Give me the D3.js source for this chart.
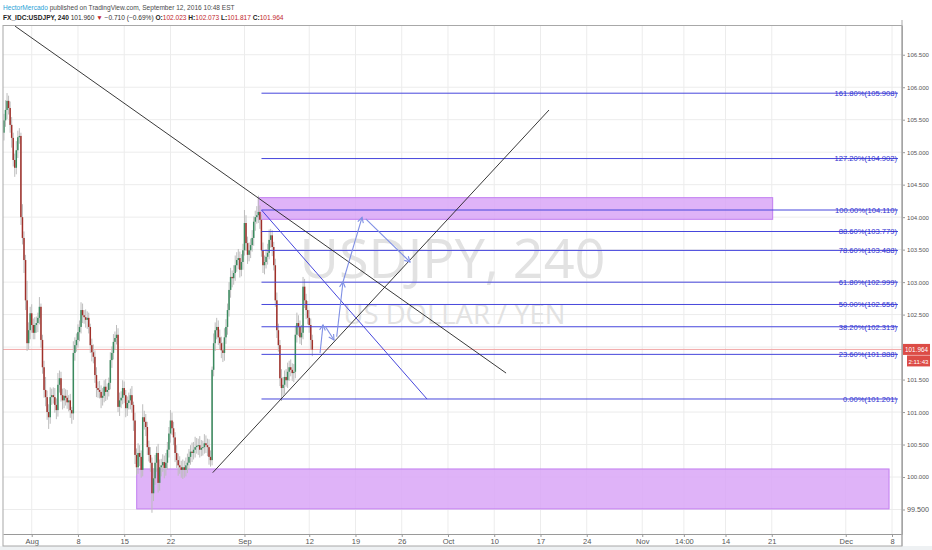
<!DOCTYPE html>
<html>
<head>
<meta charset="utf-8">
<script src="https://cdn.jsdelivr.net/npm/d3@7/dist/d3.min.js"></script>
<style>
  html, body { margin: 0; padding: 0; background: #ffffff; }
  svg { display: block; font-family: "Liberation Sans", Arial, sans-serif; }
</style>
</head>
<body>
<svg id="chart" width="932" height="550"></svg>
<script>
// ---------------- DATA ----------------
// 4h candles, bar i sits at trading day -3 + i/6 (trading day 0 = Aug 1, weekends skipped)
const firstOpen = 105.30;
const closes = [
  105.49,105.65,105.79,105.68,105.42,105.22,104.88,104.76,105.03,105.23,
  105.25,104.00,103.68,103.34,102.72,102.06,102.26,102.52,102.34,102.22,
  102.34,102.37,102.45,102.62,102.11,101.69,101.34,101.23,101.00,100.92,
  101.23,101.26,101.23,101.11,101.03,101.42,101.52,101.26,101.18,101.25,
  101.22,101.15,101.18,101.03,100.98,101.91,102.03,102.11,102.23,102.31,
  102.57,102.49,102.46,102.42,102.45,102.31,102.03,101.92,101.85,101.57,
  101.37,101.34,101.31,101.22,101.25,101.39,101.31,101.34,101.45,101.80,
  101.91,102.08,102.14,102.19,101.08,101.18,101.22,101.37,101.26,101.06,
  101.14,101.18,101.26,101.11,100.87,100.34,100.15,100.37,100.31,100.11,
  100.92,100.85,100.77,100.46,100.34,100.22,99.75,99.98,100.22,100.37,
  99.91,100.15,100.18,100.23,100.14,100.22,100.42,100.67,100.87,100.75,
  100.61,100.37,100.26,100.18,100.15,100.11,100.15,100.11,100.18,100.22,
  100.31,100.39,100.37,100.42,100.46,100.48,100.49,100.42,100.45,100.46,
  100.52,100.49,100.46,100.31,100.26,101.65,102.06,102.26,102.31,102.15,
  102.06,101.95,101.91,102.15,102.31,102.57,102.88,103.08,103.06,103.14,
  103.26,103.34,103.37,103.19,103.31,103.49,103.91,103.60,103.42,103.49,
  103.57,103.68,103.93,104.00,104.03,104.08,103.96,103.49,103.26,103.31,
  103.39,103.45,103.65,103.72,103.54,103.26,102.72,102.26,102.03,101.52,
  101.37,101.42,101.54,101.49,101.62,101.69,101.65,101.60,101.62,102.19,
  102.37,102.31,102.15,102.22,102.93,102.72,102.57,102.45,102.34,102.11,
  101.96
];
// wick extensions beyond the body, in hundredths of a yen
const wickUp = [
  10,15,12,8,10,12,8,10,14,10,12,5,20,10,8,30,12,10,14,10,
  12,10,8,15,5,8,10,20,10,12,15,10,12,14,10,18,12,10,10,12,
  10,12,8,10,5,18,12,10,12,10,12,10,8,12,10,8,5,10,12,10,
  12,10,14,10,12,10,12,10,8,12,10,12,10,15,10,12,10,12,10,8,
  10,12,10,14,5,12,10,15,12,10,20,10,12,8,10,12,8,15,12,10,
  14,12,10,12,10,15,12,10,16,12,10,8,12,10,14,10,12,10,12,14,
  12,10,14,12,16,12,10,14,12,10,14,12,10,12,10,5,15,12,14,10,
  12,10,12,14,12,10,12,14,10,12,15,12,14,10,12,10,20,12,10,12,
  10,12,8,10,14,25,10,8,12,10,12,14,16,10,8,8,10,12,10,8,
  14,12,10,12,14,10,12,10,12,14,16,12,10,12,15,12,10,14,12,10,8
];
const wickDn = [
  12,10,14,10,12,15,10,14,10,12,10,12,10,20,15,12,10,14,12,10,
  10,12,14,10,12,10,12,14,12,18,10,12,10,12,14,10,12,10,14,12,
  12,10,14,12,16,10,12,10,12,14,10,12,10,12,14,10,12,14,10,12,
  14,12,10,16,12,10,14,12,10,10,12,10,12,10,8,14,12,10,12,14,
  12,10,14,12,16,14,12,10,14,12,10,12,14,12,10,14,30,12,10,14,
  15,12,14,10,16,12,10,12,14,10,12,14,12,16,10,12,14,12,10,12,
  10,12,14,10,12,10,14,12,10,12,10,12,14,12,10,8,10,12,14,12,
  10,12,14,12,10,12,10,12,14,10,12,10,14,12,10,12,8,12,14,10,
  12,10,12,14,10,12,14,10,12,14,10,12,10,12,14,8,10,12,10,12,
  20,12,14,10,12,14,10,12,14,10,12,14,10,12,10,12,14,10,12,14,10
];

const xTickDays   = [0, 5, 10, 15, 23, 30, 35, 40, 45, 50, 55, 60, 66, 70.5, 75, 80, 88, 93];
const xTickLabels = ["Aug","8","15","22","Sep","12","19","26","Oct","10","17","24","Nov","14:00","14","21","Dec","8"];
const yTicks = [99.5, 100, 100.5, 101, 101.5, 102, 102.5, 103, 103.5, 104, 104.5, 105, 105.5, 106, 106.5];

const lastPrice = 101.964;
const countdown = "2:11:43";

const fibRatios = ["161.80%","127.20%","100.00%","88.60%","78.60%","61.80%","50.00%","38.20%","23.60%","0.00%"];
const fibPrices = [105.908, 104.902, 104.110, 103.779, 103.488, 102.999, 102.656, 102.313, 101.888, 101.201];
const fibStartDay = 24.84;
const fibDiagonal = [[24.84, 104.11], [42.74, 101.20]];

// [day, price] pairs
const trendDown = [[-1.8, 106.94], [51.28, 101.60]];
const trendUp   = [[19.57, 100.067], [55.92, 105.649]];

// rectangles: [day0, day1, priceTop, priceBottom]
const zoneTop    = [24.5, 80.1, 104.30, 103.967];
const zoneBottom = [11.35, 92.68, 100.124, 99.509];

// projected path arrows
const arrowSegs = [
  [[31.17, 101.909], [31.49, 102.340]],
  [[31.71, 102.325], [32.68, 102.110]],
  [[32.97, 102.160], [33.65, 103.002]],
  [[33.65, 103.002], [35.71, 103.998]],
  [[36.11, 103.972], [40.90, 103.310]]
];

// header pieces: [text, color, bold]
const headerLine1 = [
  ["HectorMercado", "#2a9fd6", false],
  [" published on TradingView.com, September 12, 2016 10:48 EST", "#4a4a4a", false]
];
const headerLine2 = [
  ["FX_IDC:USDJPY, 240 ", "#222", true],
  ["101.960 ", "#333", false],
  ["▼", "#c0262d", false],
  [" −0.710 (−0.69%) ", "#333", false],
  ["O:", "#222", true], ["102.023 ", "#c0262d", false],
  ["H:", "#222", true], ["102.073 ", "#c0262d", false],
  ["L:", "#222", true], ["101.817 ", "#c0262d", false],
  ["C:", "#222", true], ["101.964", "#c0262d", false]
];

// ---------------- LAYOUT ----------------
const svg = d3.select("#chart");
const L = 3, R = 902, T = 25.5, B = 534;
const x = d3.scaleLinear().domain([-3.103, 94.08]).range([L, R]);
const y = d3.scaleLinear().domain([99.123, 106.95]).range([B, T]);

// shrink a text's font size until it fits a width
function fit(sel, base, maxW) {
  sel.each(function () {
    const t = d3.select(this).attr("font-size", base);
    const w = this.getComputedTextLength();
    if (w > maxW) t.attr("font-size", base * maxW / w);
  });
}

svg.append("rect").attr("x", 0).attr("y", 546).attr("width", 932).attr("height", 4).attr("fill", "#eef1f3");

svg.append("defs").append("clipPath").attr("id", "pane")
  .append("rect").attr("x", L).attr("y", T).attr("width", R - L).attr("height", B - T);

// header
function headerLine(parts, yy, targetW) {
  const t = svg.append("text").attr("x", 3).attr("y", yy).style("white-space", "pre");
  parts.forEach(p => t.append("tspan").attr("fill", p[1])
    .attr("font-weight", p[2] ? "bold" : "normal").text(p[0]));
  fit(t, 8.5, targetW);
}
headerLine(headerLine1, 9.5, 232);
headerLine(headerLine2, 20, 281);

// pane background
svg.append("rect").attr("x", L).attr("y", T).attr("width", R - L).attr("height", B - T).attr("fill", "#fff");

// grid
const grid = svg.append("g").attr("clip-path", "url(#pane)");
grid.selectAll("line.v").data(xTickDays).join("line")
  .attr("x1", d => x(d)).attr("x2", d => x(d)).attr("y1", T).attr("y2", B)
  .attr("stroke", "#ececec").attr("stroke-width", 1);
grid.selectAll("line.h").data(yTicks).join("line")
  .attr("y1", d => y(d)).attr("y2", d => y(d)).attr("x1", L).attr("x2", R)
  .attr("stroke", "#ececec").attr("stroke-width", 1);

// watermark
const cx = (L + R) / 2;
const wm1 = svg.append("text").attr("x", cx).attr("y", 278).attr("text-anchor", "middle")
  .attr("font-family", "'Open Sans', 'Liberation Sans', sans-serif")
  .attr("fill", "#e2e2e2").text("USDJPY, 240");
fit(wm1, 60, 306);
const wm2 = svg.append("text").attr("x", cx + 2).attr("y", 324).attr("text-anchor", "middle")
  .attr("font-family", "'Open Sans', 'Liberation Sans', sans-serif")
  .attr("fill", "#e2e2e2").text("US DOLLAR / YEN");
fit(wm2, 30, 222);

const pane = svg.append("g").attr("clip-path", "url(#pane)");

// zones
[zoneTop, zoneBottom].forEach(z => {
  pane.append("rect")
    .attr("x", x(z[0])).attr("width", x(z[1]) - x(z[0]))
    .attr("y", y(z[2])).attr("height", y(z[3]) - y(z[2]))
    .attr("fill", "#d9a6f7").attr("fill-opacity", 0.85)
    .attr("stroke", "#c27ef0").attr("stroke-width", 1);
});

// last price line
pane.append("line").attr("x1", L).attr("x2", R).attr("y1", y(lastPrice)).attr("y2", y(lastPrice))
  .attr("stroke", "#f2a7a7").attr("stroke-width", 1);

// candles
const candles = closes.map((c, i) => {
  const o = i === 0 ? firstOpen : closes[i - 1];
  return { d: -3 + i / 6, o, c,
           h: Math.max(o, c) + wickUp[i] / 100,
           l: Math.min(o, c) - wickDn[i] / 100 };
});
const cg = pane.append("g");
cg.selectAll("line.wick").data(candles).join("line")
  .attr("x1", d => x(d.d)).attr("x2", d => x(d.d))
  .attr("y1", d => y(d.h)).attr("y2", d => y(d.l))
  .attr("stroke", "#bdbdbd").attr("stroke-width", 1);
cg.selectAll("rect.body").data(candles).join("rect")
  .attr("x", d => x(d.d) - 0.75).attr("width", 1.5)
  .attr("y", d => y(Math.max(d.o, d.c)))
  .attr("height", d => Math.max(1, Math.abs(y(d.o) - y(d.c))))
  .attr("fill", d => d.c >= d.o ? "#3a8a5e" : "#a0302a");

// fib levels
const fibColor = "#4646dc";
pane.selectAll("line.fib").data(fibPrices).join("line")
  .attr("x1", x(fibStartDay)).attr("x2", R - 4)
  .attr("y1", d => y(d)).attr("y2", d => y(d))
  .attr("stroke", fibColor).attr("stroke-width", 1);
pane.selectAll("text.fib").data(fibPrices).join("text")
  .attr("x", R - 5).attr("y", d => y(d) + 2.8).attr("text-anchor", "end")
  .attr("font-size", 7.6).attr("fill", "#3030d0")
  .text((d, i) => fibRatios[i] + "(" + d.toFixed(3) + ")");
pane.append("line")
  .attr("x1", x(fibDiagonal[0][0])).attr("y1", y(fibDiagonal[0][1]))
  .attr("x2", x(fibDiagonal[1][0])).attr("y2", y(fibDiagonal[1][1]))
  .attr("stroke", fibColor).attr("stroke-width", 1);

// trend lines
[trendDown, trendUp].forEach(t => {
  pane.append("line")
    .attr("x1", x(t[0][0])).attr("y1", y(t[0][1]))
    .attr("x2", x(t[1][0])).attr("y2", y(t[1][1]))
    .attr("stroke", "#222").attr("stroke-width", 0.9);
});

// arrows
const arrowColor = "#7f8fe4";
arrowSegs.forEach(s => {
  const x1 = x(s[0][0]), y1 = y(s[0][1]), x2 = x(s[1][0]), y2 = y(s[1][1]);
  pane.append("line").attr("x1", x1).attr("y1", y1).attr("x2", x2).attr("y2", y2)
    .attr("stroke", arrowColor).attr("stroke-width", 1.1);
  const ang = Math.atan2(y2 - y1, x2 - x1), len = 6, spread = 0.5;
  const p = [
    [x2 - len * Math.cos(ang - spread), y2 - len * Math.sin(ang - spread)],
    [x2, y2],
    [x2 - len * Math.cos(ang + spread), y2 - len * Math.sin(ang + spread)]
  ];
  pane.append("path").attr("d", d3.line()(p)).attr("fill", "none")
    .attr("stroke", arrowColor).attr("stroke-width", 1.1);
});

// axes
const xAxis = d3.axisBottom(x).tickValues(xTickDays)
  .tickFormat((d, i) => xTickLabels[i]).tickSize(3).tickSizeOuter(0);
const gx = svg.append("g").attr("transform", `translate(0,${B})`).call(xAxis);
gx.select(".domain").attr("stroke", "#9a9a9a");
gx.selectAll(".tick line").attr("stroke", "#9a9a9a");
gx.selectAll(".tick text").attr("fill", "#555").attr("dy", "0.55em").attr("font-family", null);
fit(gx.selectAll(".tick text"), 7.5, 24);

const ty = y(lastPrice);
const yAxis = d3.axisRight(y).tickValues(yTicks)
  .tickFormat(d => Math.abs(y(d) - ty) < 12 ? "" : d3.format(".3f")(d))
  .tickSize(3).tickPadding(2).tickSizeOuter(0);
const gy = svg.append("g").attr("transform", `translate(${R},0)`).call(yAxis);
gy.select(".domain").attr("stroke", "#9a9a9a");
gy.selectAll(".tick line").attr("stroke", "#9a9a9a");
gy.selectAll(".tick text").attr("fill", "#555").attr("font-family", null);
fit(gy.selectAll(".tick text"), 7.5, 22);

// frame
svg.append("rect").attr("x", L).attr("y", T).attr("width", R - L).attr("height", 546 - T)
  .attr("fill", "none").attr("stroke", "#a8a8a8").attr("stroke-width", 1);
svg.append("line").attr("x1", R).attr("x2", R).attr("y1", 20).attr("y2", 546).attr("stroke", "#a8a8a8");

// price tags
svg.append("rect").attr("x", R + 1).attr("y", ty - 5.5).attr("width", 27).attr("height", 11).attr("fill", "#dc4c46");
const t1 = svg.append("text").attr("x", R + 14.5).attr("y", ty + 2.6).attr("text-anchor", "middle")
  .attr("fill", "#fff").text(lastPrice.toFixed(3));
fit(t1, 7.5, 23);
svg.append("rect").attr("x", R + 5).attr("y", ty + 6).attr("width", 23).attr("height", 11).attr("fill", "#dc4c46");
const t2 = svg.append("text").attr("x", R + 16.5).attr("y", ty + 14.2).attr("text-anchor", "middle")
  .attr("fill", "#fff").text(countdown);
fit(t2, 7.5, 20);
</script>
</body>
</html>
